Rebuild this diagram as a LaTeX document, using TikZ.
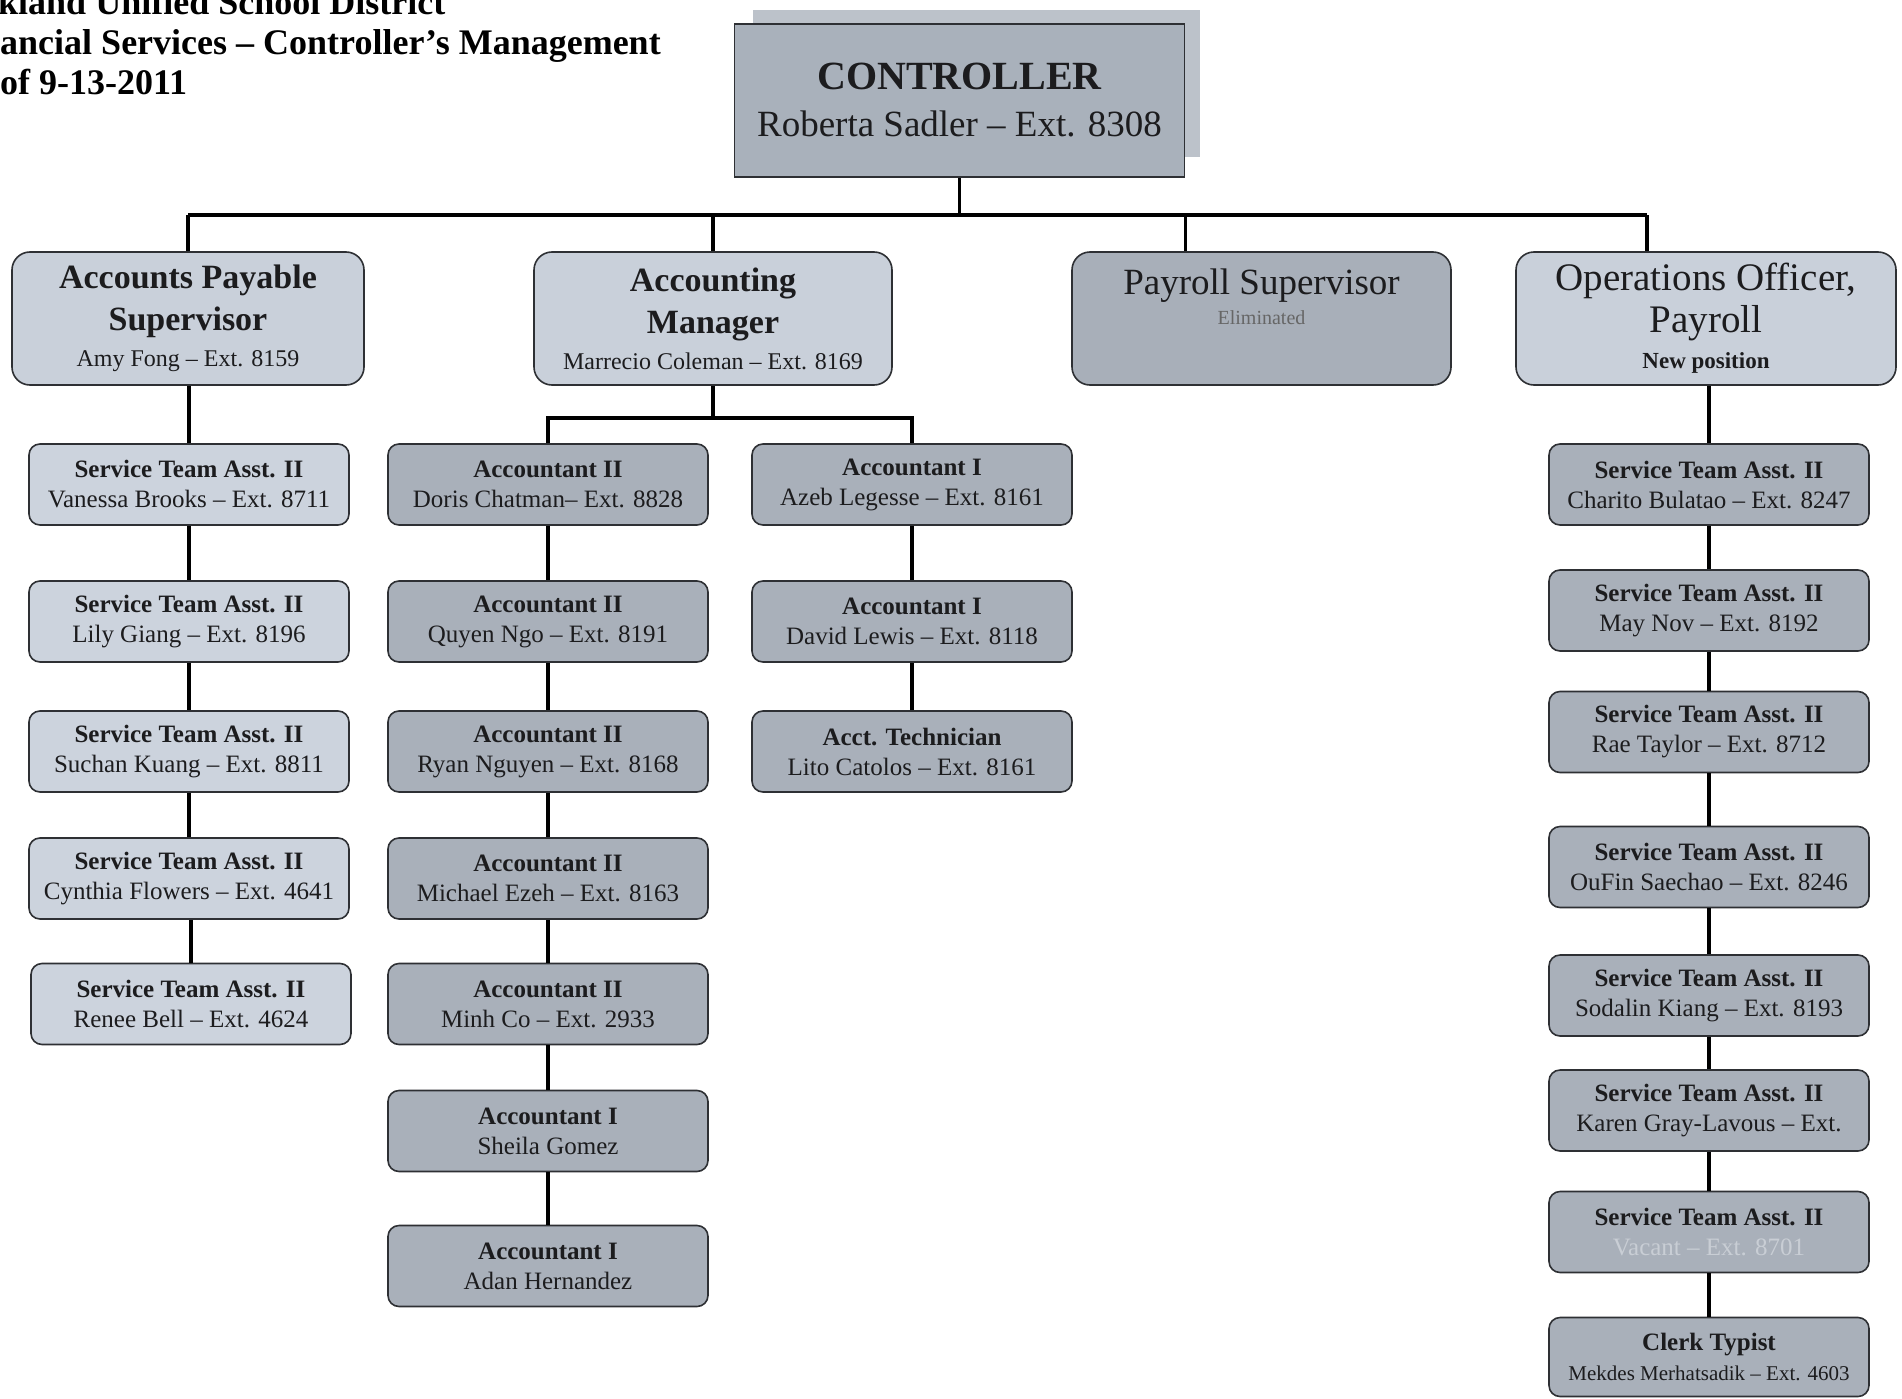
\documentclass[tikz,border=0pt]{standalone}
\usepackage{fontspec}
\setmainfont{Liberation Serif}
\definecolor{lvlite}{HTML}{C9D0DA}
\definecolor{lvdark}{HTML}{A8AFB9}
\definecolor{colite}{HTML}{CCD3DD}
\definecolor{codark}{HTML}{A9B0BA}
\definecolor{ctrlfill}{HTML}{A9B1BB}
\definecolor{shadowc}{HTML}{BCC2CA}
\definecolor{edgec}{HTML}{2E3034}
\definecolor{inkc}{HTML}{1C1C1E}
\definecolor{fadec}{HTML}{C9CED5}
\begin{document}
\begin{tikzpicture}[x=1pt,y=-1pt,
  conn/.style={line width=3.5pt, black},
  bx/.style={draw=edgec, line width=1.6pt, rounded corners=11pt, align=center, inner sep=0pt, text=inkc},
  lvone/.style={bx, rounded corners=18pt, minimum height=133pt},
  lvtwo/.style={bx, minimum width=320pt, minimum height=81pt, font=\fontsize{25}{30}\selectfont},
  onetitle/.style={font=\fontsize{34}{42}\selectfont\bfseries},
  titletext/.style={anchor=base west, font=\fontsize{36}{40}\selectfont\bfseries, inner sep=0pt, text=black}
]
\useasboundingbox (0,0) rectangle (1902,1399);
\clip (0,0) rectangle (1902,1399);
\fill[white] (0,0) rectangle (1902,1399);

% title
\node[titletext] (title1) at (-48,15) {Oakland Unified School District};
\node[titletext] (title2) at (-52,55) {Financial Services – Controller’s Management};
\node[titletext] (title3) at (-49,95) {As of 9-13-2011};

% controller
\node[fill=shadowc, minimum width=447pt, minimum height=147pt, inner sep=0pt] (ctrlsh) at (976.5,83.5) {};
\node[draw=edgec, line width=1.6pt, fill=ctrlfill, minimum width=450pt, minimum height=153pt, align=center, inner sep=0pt, text=inkc, font=\fontsize{37}{47}\selectfont] (ctrl) at (959.5,100.5)
  {{\fontsize{40}{47}\selectfont\bfseries CONTROLLER}\\Roberta Sadler – Ext. 8308};

% level one
\node[lvone, fill=lvlite, minimum width=352pt, onetitle] (ap) at (188,318.5)
  {Accounts Payable\\Supervisor\\[-6pt]{\fontsize{24}{28}\mdseries\selectfont Amy Fong – Ext. 8159}};
\node[lvone, fill=lvlite, minimum width=358pt, onetitle] (am) at (713,318.5)
  {Accounting\\Manager\\[-6pt]{\fontsize{24}{28}\mdseries\selectfont Marrecio Coleman – Ext. 8169}};
\node[lvone, fill=lvdark, minimum width=379pt] (ps) at (1261.5,318.5) {};
\node[align=center, inner sep=0pt, text=inkc, font=\fontsize{37}{30}\selectfont] (pstext) at (1261.5,297)
  {Payroll Supervisor\\{\fontsize{20}{26}\selectfont\color{black!60} Eliminated}};
\node[lvone, fill=lvlite, minimum width=380pt, font=\fontsize{39}{42}\selectfont] (ops) at (1706,318.5)
  {Operations Officer,\\Payroll\\[-6pt]{\fontsize{23}{28}\bfseries\selectfont New position}};

% AP column
\node[lvtwo, fill=colite] (ap1) at (189,484.5) {\textbf{Service Team Asst. II}\\Vanessa Brooks – Ext. 8711};
\node[lvtwo, fill=colite] (ap2) at (189,621.5) {\textbf{Service Team Asst. II}\\Lily Giang – Ext. 8196};
\node[lvtwo, fill=colite] (ap3) at (189,751.5) {\textbf{Service Team Asst. II}\\Suchan Kuang – Ext. 8811};
\node[lvtwo, fill=colite] (ap4) at (189,878.5) {\textbf{Service Team Asst. II}\\Cynthia Flowers – Ext. 4641};
\node[lvtwo, fill=colite] (ap5) at (191,1004) {\textbf{Service Team Asst. II}\\Renee Bell – Ext. 4624};

% Accountant II column
\node[lvtwo, fill=codark] (c1) at (548,484.5) {\textbf{Accountant II}\\Doris Chatman– Ext. 8828};
\node[lvtwo, fill=codark] (c2) at (548,621.5) {\textbf{Accountant II}\\Quyen Ngo – Ext. 8191};
\node[lvtwo, fill=codark] (c3) at (548,751.5) {\textbf{Accountant II}\\Ryan Nguyen – Ext. 8168};
\node[lvtwo, fill=codark] (c4) at (548,878.5) {\textbf{Accountant II}\\Michael Ezeh – Ext. 8163};
\node[lvtwo, fill=codark] (c5) at (548,1004) {\textbf{Accountant II}\\Minh Co – Ext. 2933};
\node[lvtwo, fill=codark] (c6) at (548,1131) {\textbf{Accountant I}\\Sheila Gomez};
\node[lvtwo, fill=codark] (c7) at (548,1266) {\textbf{Accountant I}\\Adan Hernandez};

% Accountant I column
\node[lvtwo, fill=codark] (d1) at (912,484.5) {\textbf{Accountant I}\\Azeb Legesse – Ext. 8161};
\node[lvtwo, fill=codark] (d2) at (912,621.5) {\textbf{Accountant I}\\David Lewis – Ext. 8118};
\node[lvtwo, fill=codark] (d3) at (912,751.5) {\textbf{Acct. Technician}\\Lito Catolos – Ext. 8161};

% Operations column
\node[lvtwo, fill=codark] (o1) at (1709,484.5) {\textbf{Service Team Asst. II}\\Charito Bulatao – Ext. 8247};
\node[lvtwo, fill=codark] (o2) at (1709,610.5) {\textbf{Service Team Asst. II}\\May Nov – Ext. 8192};
\node[lvtwo, fill=codark] (o3) at (1709,732) {\textbf{Service Team Asst. II}\\Rae Taylor – Ext. 8712};
\node[lvtwo, fill=codark] (o4) at (1709,867) {\textbf{Service Team Asst. II}\\OuFin Saechao – Ext. 8246};
\node[lvtwo, fill=codark] (o5) at (1709,995.5) {\textbf{Service Team Asst. II}\\Sodalin Kiang – Ext. 8193};
\node[lvtwo, fill=codark] (o6) at (1709,1110.5) {\textbf{Service Team Asst. II}\\Karen Gray-Lavous – Ext.};
\node[lvtwo, fill=codark] (o7) at (1709,1232) {\textbf{Service Team Asst. II}\\{\color{fadec}Vacant – Ext. 8701}};
\node[lvtwo, fill=codark, minimum height=79pt] (o8) at (1709,1357)
  {\textbf{Clerk Typist}\\{\fontsize{21}{30}\selectfont Mekdes Merhatsadik – Ext. 4603}};

% connectors
\coordinate (busL) at (188,215);
\coordinate (busR) at (1647,215);
\coordinate (accL) at (548,418);
\coordinate (accR) at (912,418);
\draw[conn] (ctrl.south) -- (ctrl.south |- busL);
\draw[conn] (busL) -- (busR);
\draw[conn] (ap.north) -- (busL);
\draw[conn] (am.north) -- (am.north |- busL);
\draw[conn] (ps.north -| ctrl.east) -- (ctrl.east |- busL);
\draw[conn] (busR) -- (busR |- ops.north);

\draw[conn] (ap.south -| ap1.north) -- (ap1.north);
\draw[conn] (ap1.south) -- (ap2.north);
\draw[conn] (ap2.south) -- (ap3.north);
\draw[conn] (ap3.south) -- (ap4.north);
\draw[conn] (ap4.south -| ap5.north) -- (ap5.north);

\draw[conn] (am.south) -- (am.south |- accL);
\draw[conn, line join=miter] (c1.north) -- (accL) -- (accR) -- (d1.north);
\draw[conn] (c1.south) -- (c2.north);
\draw[conn] (c2.south) -- (c3.north);
\draw[conn] (c3.south) -- (c4.north);
\draw[conn] (c4.south) -- (c5.north);
\draw[conn] (c5.south) -- (c6.north);
\draw[conn] (c6.south) -- (c7.north);
\draw[conn] (d1.south) -- (d2.north);
\draw[conn] (d2.south) -- (d3.north);

\draw[conn] (ops.south -| o1.north) -- (o1.north);
\draw[conn] (o1.south) -- (o2.north);
\draw[conn] (o2.south) -- (o3.north);
\draw[conn] (o3.south) -- (o4.north);
\draw[conn] (o4.south) -- (o5.north);
\draw[conn] (o5.south) -- (o6.north);
\draw[conn] (o6.south) -- (o7.north);
\draw[conn] (o7.south) -- (o8.north);
\end{tikzpicture}
\end{document}
